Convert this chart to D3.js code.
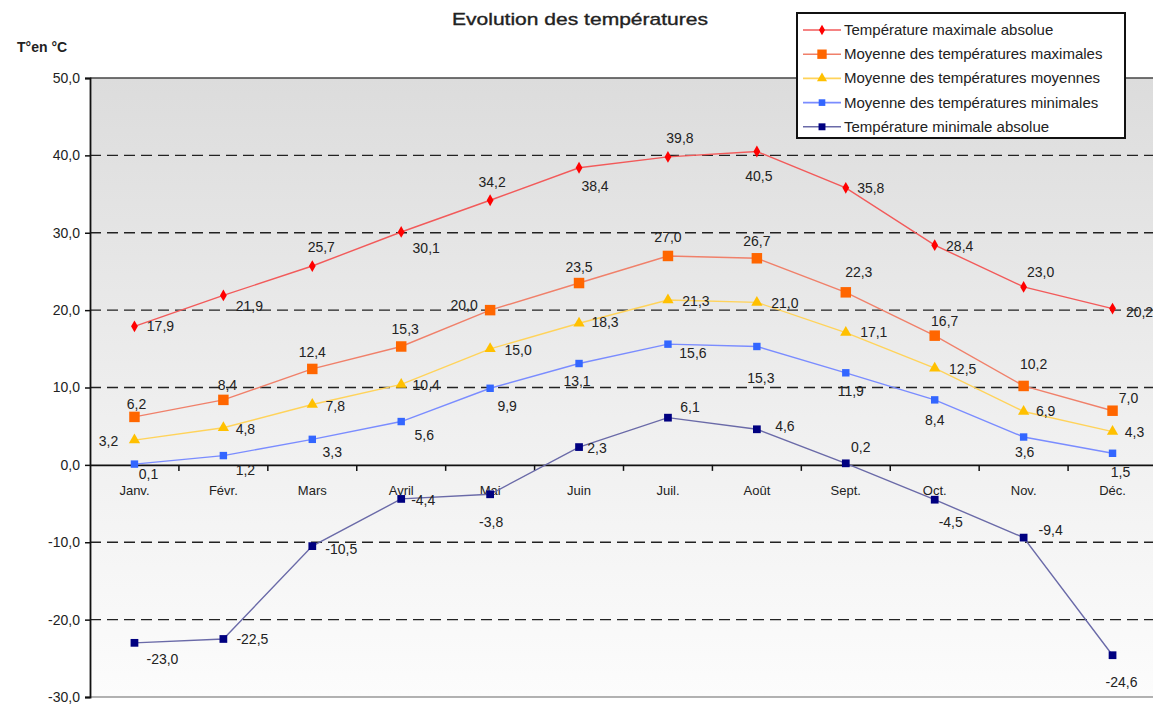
<!DOCTYPE html>
<html>
<head>
<meta charset="utf-8">
<script src="https://cdn.jsdelivr.net/npm/d3@7"></script>
<style>
  body { margin: 0; background: #fff; }
  text { font-family: "Liberation Sans", Arial, sans-serif; fill: #222; }
</style>
</head>
<body>
<div id="container"></div>
<script>
const months = ["Janv.", "Févr.", "Mars", "Avril", "Mai", "Juin", "Juil.", "Août", "Sept.", "Oct.", "Nov.", "Déc."];
const seriesNames = ["Température maximale absolue", "Moyenne des températures maximales",
  "Moyenne des températures moyennes", "Moyenne des températures minimales", "Température minimale absolue"];
const maxAbs = [17.9, 21.9, 25.7, 30.1, 34.2, 38.4, 39.8, 40.5, 35.8, 28.4, 23.0, 20.2];
const moyMax = [6.2, 8.4, 12.4, 15.3, 20.0, 23.5, 27.0, 26.7, 22.3, 16.7, 10.2, 7.0];
const moyMoy = [3.2, 4.8, 7.8, 10.4, 15.0, 18.3, 21.3, 21.0, 17.1, 12.5, 6.9, 4.3];
const moyMin = [0.1, 1.2, 3.3, 5.6, 9.9, 13.1, 15.6, 15.3, 11.9, 8.4, 3.6, 1.5];
const minAbs = [-23.0, -22.5, -10.5, -4.4, -3.8, 2.3, 6.1, 4.6, 0.2, -4.5, -9.4, -24.6];
const yTicks = [50, 40, 30, 20, 10, 0, -10, -20, -30];

// where each value label sits relative to its point (label centre)
const maxAbsLbl = [[26,0],[26,11],[9,-19],[25,16],[2,-18],[16,18],[12,-19],[2,24],[25,0],[25,1],[17,-15],[27,3]];
const moyMaxLbl = [[2,-13],[4,-15],[0,-17],[4,-17],[-26,-5],[0,-16],[0,-19],[0,-17],[13,-20],[10,-15],[10,-22],[16,-13]];
const moyMoyLbl = [[-26,1],[22,1],[23,1],[25,1],[28,1],[26,-1],[28,1],[28,1],[28,-1],[28,1],[22,0],[22,0]];
const moyMinLbl = [[14,10],[22,14],[20,13],[23,13],[17,18],[-2,17],[25,9],[4,32],[5,18],[0,20],[1,15],[8,19]];
const minAbsLbl = [[28,16],[29,0],[29,3],[22,1],[1,28],[18,1],[22,-11],[28,-3],[15,-16],[16,22],[27,-8],[9,27]];

const w = 1153, h = 704;
const plotLeft = 90, plotRight = 1157, plotTop = 78, plotBottom = 697;

const svg = d3.select("#container").append("svg")
  .attr("width", w).attr("height", h);

const x = d3.scaleBand().domain(months).range([plotLeft, plotRight]);
const y = d3.scaleLinear().domain([-30, 50]).range([plotBottom, plotTop]);

const defs = svg.append("defs");
const grad = defs.append("linearGradient").attr("id", "bg").attr("x1", 0).attr("y1", 0).attr("x2", 0).attr("y2", 1);
grad.append("stop").attr("offset", "0%").attr("stop-color", "#dcdcdc");
grad.append("stop").attr("offset", "55%").attr("stop-color", "#efefef");
grad.append("stop").attr("offset", "100%").attr("stop-color", "#fcfcfc");

svg.append("rect")
  .attr("x", plotLeft).attr("y", plotTop)
  .attr("width", plotRight - plotLeft).attr("height", plotBottom - plotTop)
  .attr("fill", "url(#bg)");

// top and bottom border
svg.append("line").attr("x1", plotLeft).attr("x2", plotRight).attr("y1", plotTop).attr("y2", plotTop)
  .attr("stroke", "#444").attr("stroke-width", 1.5);
svg.append("line").attr("x1", plotLeft).attr("x2", plotRight).attr("y1", plotBottom).attr("y2", plotBottom)
  .attr("stroke", "#999").attr("stroke-width", 1.5);

// dashed grid
svg.append("g").selectAll("line")
  .data(yTicks.filter(d => d != 0 && d != 50 && d != -30))
  .enter().append("line")
  .attr("x1", plotLeft).attr("x2", plotRight)
  .attr("y1", d => y(d)).attr("y2", d => y(d))
  .attr("stroke", "#222").attr("stroke-width", 1.3)
  .attr("stroke-dasharray", "11,6");

const fmt = v => d3.format(".1f")(v).replace(".", ",").replace("−", "-");

// y axis
const yAxis = d3.axisLeft(y).tickValues(yTicks).tickSize(5).tickFormat(fmt);
const gy = svg.append("g").attr("id", "y-axis")
  .attr("transform", "translate(" + plotLeft + ",0)")
  .call(yAxis);
gy.select(".domain").attr("stroke", "#111").attr("stroke-width", 1.8);
gy.selectAll(".tick line").attr("stroke", "#111").attr("stroke-width", 1.5);
gy.selectAll(".tick text").attr("font-size", 14).attr("dx", -2)
  .style("font-family", "'Liberation Sans', Arial, sans-serif").attr("fill", "#222");

// x axis on the 0 line
const xAxis = d3.axisBottom(x).tickSize(0).tickSizeOuter(0);
const gx = svg.append("g").attr("id", "x-axis")
  .attr("transform", "translate(0," + y(0) + ")")
  .call(xAxis);
gx.select(".domain").attr("stroke", "#111").attr("stroke-width", 1.8);
gx.selectAll(".tick text").attr("font-size", 13).attr("dy", "2.05em")
  .style("font-family", "'Liberation Sans', Arial, sans-serif").attr("fill", "#222");
gx.selectAll("line.sep")
  .data(months.slice(1))
  .enter().append("line").attr("class", "sep")
  .attr("x1", d => x(d)).attr("x2", d => x(d))
  .attr("y1", 0).attr("y2", 6)
  .attr("stroke", "#111").attr("stroke-width", 1.5);

const cx = i => x(months[i]) + x.bandwidth() / 2;

const series = [
  { name: seriesNames[0], values: maxAbs, lbl: maxAbsLbl, line: "#f25a5a", fill: "#ff0000", shape: d3.symbolDiamond, size: 40 },
  { name: seriesNames[1], values: moyMax, lbl: moyMaxLbl, line: "#f0806a", fill: "#ff6600", shape: d3.symbolSquare, size: 110 },
  { name: seriesNames[2], values: moyMoy, lbl: moyMoyLbl, line: "#ffd35a", fill: "#ffc000", shape: d3.symbolTriangle, size: 55 },
  { name: seriesNames[3], values: moyMin, lbl: moyMinLbl, line: "#7a8cff", fill: "#3366ff", shape: d3.symbolSquare, size: 55 },
  { name: seriesNames[4], values: minAbs, lbl: minAbsLbl, line: "#6a6aa8", fill: "#000080", shape: d3.symbolSquare, size: 60 }
];

const line = d3.line().x((d, i) => cx(i)).y(d => y(d));

series.forEach(s => {
  const g = svg.append("g");
  g.append("path").datum(s.values)
    .attr("d", line).attr("fill", "none")
    .attr("stroke", s.line).attr("stroke-width", 1.4);
  g.selectAll("path.mk").data(s.values).enter().append("path").attr("class", "mk")
    .attr("transform", (d, i) => "translate(" + cx(i) + "," + y(d) + ")")
    .attr("d", d3.symbol().type(s.shape).size(s.size))
    .attr("fill", s.fill);
  g.selectAll("text").data(s.values).enter().append("text")
    .attr("x", (d, i) => cx(i) + s.lbl[i][0])
    .attr("y", (d, i) => y(d) + s.lbl[i][1] + 5)
    .attr("text-anchor", "middle")
    .attr("font-size", 14)
    .text(fmt);
});

// title and unit
svg.append("text").attr("x", 580).attr("y", 25).attr("text-anchor", "middle")
  .attr("font-size", 17).attr("fill", "#222")
  .attr("stroke", "#222").attr("stroke-width", 0.35)
  .attr("textLength", 256).attr("lengthAdjust", "spacingAndGlyphs")
  .text("Evolution des températures");
svg.append("text").attr("x", 17).attr("y", 52)
  .attr("font-size", 14).attr("font-weight", "bold")
  .text("T°en °C");

// legend
const lg = svg.append("g").attr("transform", "translate(797,13)");
lg.append("rect").attr("width", 328).attr("height", 125)
  .attr("fill", "#fff").attr("stroke", "#111").attr("stroke-width", 2);
series.forEach((s, i) => {
  const ly = 17 + i * 24.2;
  lg.append("line").attr("x1", 6).attr("x2", 44).attr("y1", ly).attr("y2", ly)
    .attr("stroke", s.line).attr("stroke-width", 1.6);
  lg.append("path").attr("transform", "translate(25," + ly + ")")
    .attr("d", d3.symbol().type(s.shape).size(s.size * 0.8))
    .attr("fill", s.fill);
  lg.append("text").attr("x", 47).attr("y", ly + 5)
    .attr("font-size", 15).attr("fill", "#222")
    .text(s.name);
});
</script>
</body>
</html>
